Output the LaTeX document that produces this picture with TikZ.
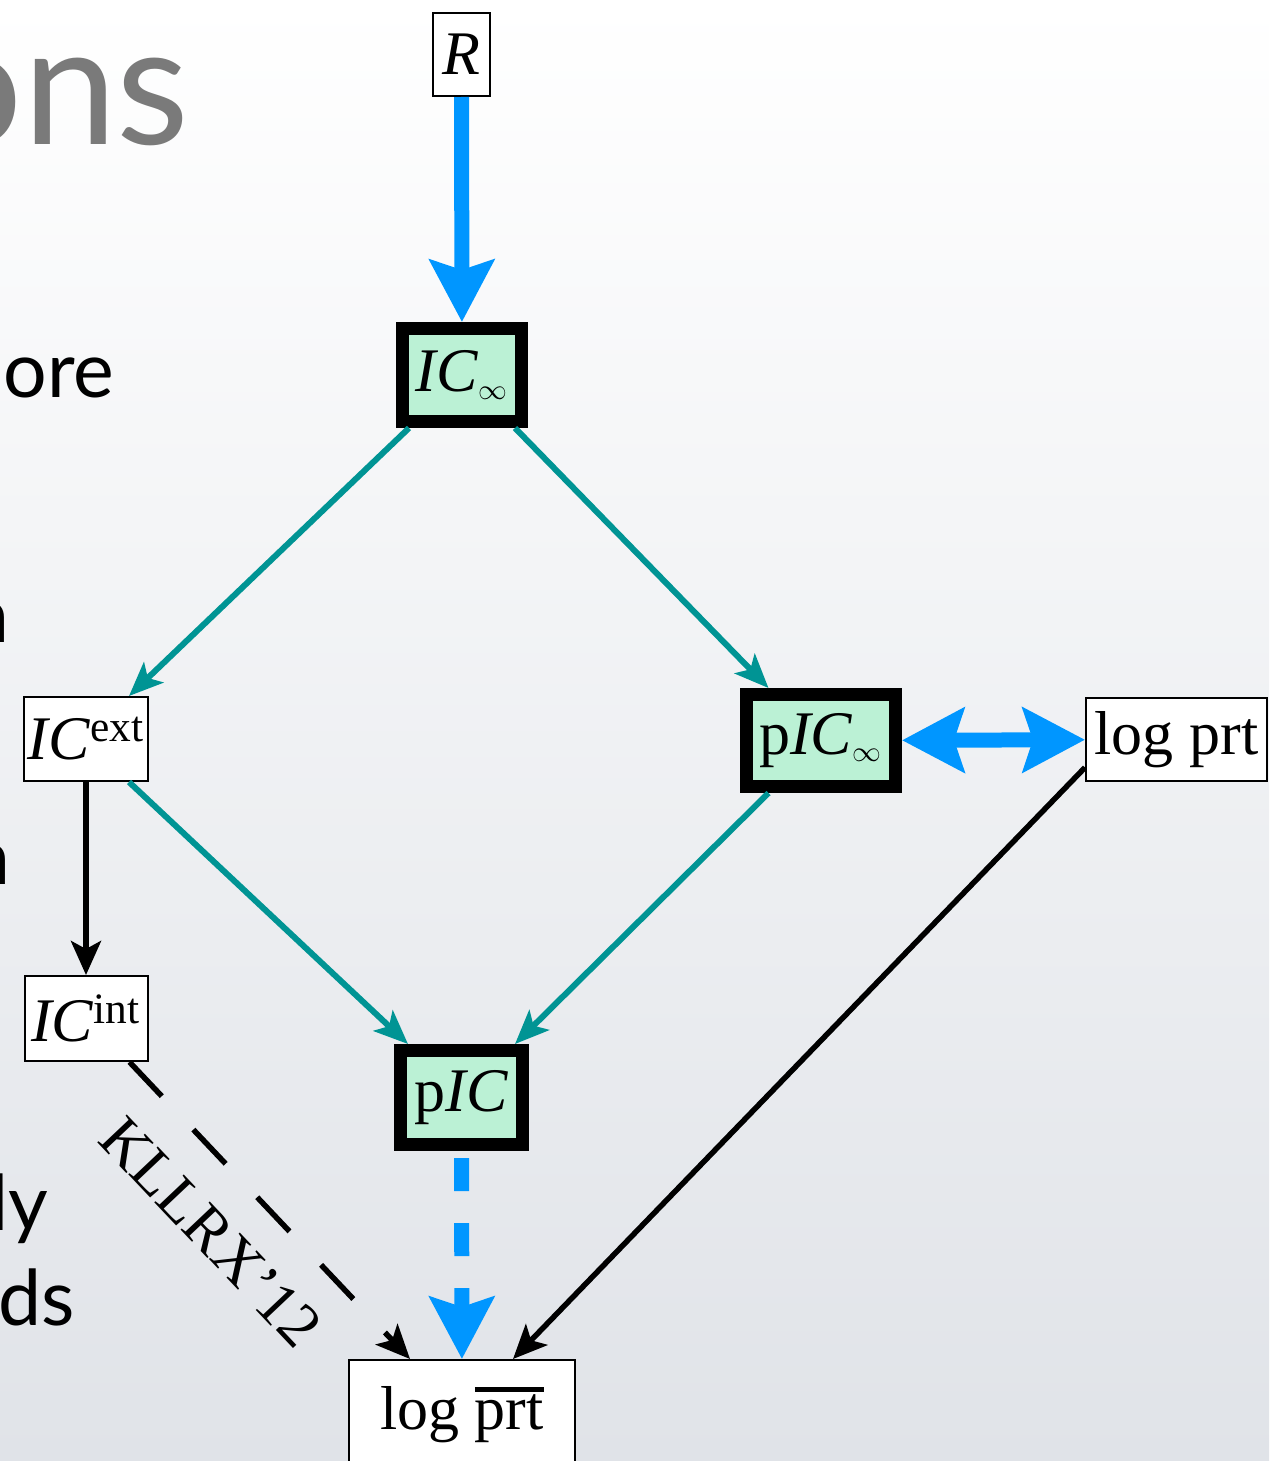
\documentclass[tikz,border=0pt]{standalone}
\usepackage{fontspec}
\setmainfont{Liberation Serif}
\newfontfamily\slidefont{Lato}
\usetikzlibrary{arrows.meta}

\definecolor{icmint}{RGB}{187,241,213}
\definecolor{icteal}{RGB}{0,148,148}
\definecolor{icblue}{RGB}{0,150,255}
\definecolor{slidegray}{RGB}{122,122,122}
\definecolor{bgmid}{RGB}{246,247,249}
\definecolor{bgbottom}{RGB}{224,227,232}

% overlined word with a heavy rule
\newcommand{\prtbar}{\leavevmode\vbox{\hrule height 2.5pt\kern 1.5pt\hbox{prt}}}
% small infinity index
\newcommand{\infidx}{$_{\scriptscriptstyle\infty}$}

\tikzset{
  box/.style={draw, line width=1pt, fill=white, inner sep=0pt},
  keybox/.style={draw, line width=6.5pt, fill=icmint, inner sep=0pt},
  bluetip/.tip={Stealth[length=31pt, width=32pt, inset=5pt]},
  implies/.style={line width=3pt, icteal, -{Stealth[length=17pt, width=14pt, inset=4pt]}},
  reduces/.style={line width=2.75pt, black, -{Stealth[length=17pt, width=15pt, inset=4pt]}},
  equiv/.style={line width=7.5pt, icblue, -bluetip},
  slide/.style={font=\slidefont\fontsize{38.5}{46}\selectfont, anchor=base east, inner sep=0pt},
}

\begin{document}
\begin{tikzpicture}[x=0.5pt, y=-0.5pt, every node/.style={font=\fontsize{31}{37}\selectfont}]
\clip (0,0) rectangle (1269,1461);
\shade[top color=white, middle color=bgmid, bottom color=bgbottom] (0,0) rectangle (1269,1461);

% slide text behind the diagram
\node[slide, font=\slidefont\fontsize{84}{100}\selectfont, text=slidegray] (title) at (190,145) {ons};
\node[slide] (t1) at (115,397) {ore};
\node[slide] (t2) at (10,642) {n};
\node[slide] (t3) at (11,884) {n};
\node[slide] (t4) at (49,1230) {ly};
\node[slide] (t5) at (75,1325) {ds};

% notions
\node[box, minimum width=28.5pt, minimum height=41.5pt] (R) at (461.5,54.5) {\textit{R}};
\node[keybox, minimum width=59.5pt, minimum height=46.5pt] (ICinf) at (462,375) {\textit{IC}\infidx};
\node[box, minimum width=62pt, minimum height=42pt] (ICext) at (86,739) {\textit{IC}\textsuperscript{ext}};
\node[box, minimum width=61.5pt, minimum height=42.5pt] (ICint) at (86,1018.5) {\textit{IC}\textsuperscript{int}};
\node[keybox, minimum width=74.5pt, minimum height=46pt] (pICinf) at (821,740.5) {p\textit{IC}\infidx};
\node[box, minimum width=90.5pt, minimum height=41.5pt] (lp) at (1176.5,739.5) {log prt};
\node[keybox, minimum width=61pt, minimum height=47pt] (pIC) at (461.5,1097.5) {p\textit{IC}};
\node[box, minimum width=113pt, minimum height=55pt] (lpbar) at (462,1415) {log \prtbar};

% implications
\draw[equiv] (R) -- (ICinf);
\draw[implies] (ICinf.225) -- (ICext.45);
\draw[implies] (ICinf.-45) -- (pICinf.135);
\draw[implies] (ICext.-45) -- (pIC.135);
\draw[implies] (pICinf.225) -- (pIC.45);
\draw[reduces] (ICext) -- (ICint);
\draw[equiv, bluetip-bluetip] (pICinf) -- (lp);
\draw[equiv, dash pattern=on 16.5pt off 16pt, dash phase=29pt] (pIC) -- (lpbar);
\draw[reduces] (lp.197) -- ([xshift=25.5pt]lpbar.north);
\draw[reduces, dash pattern=on 23.5pt off 23pt] (ICint.-45) --
  node[sloped, below=17pt, inner sep=0pt, pos=0.44] {KLLRX'12} ([xshift=-26pt]lpbar.north);
\end{tikzpicture}
\end{document}
